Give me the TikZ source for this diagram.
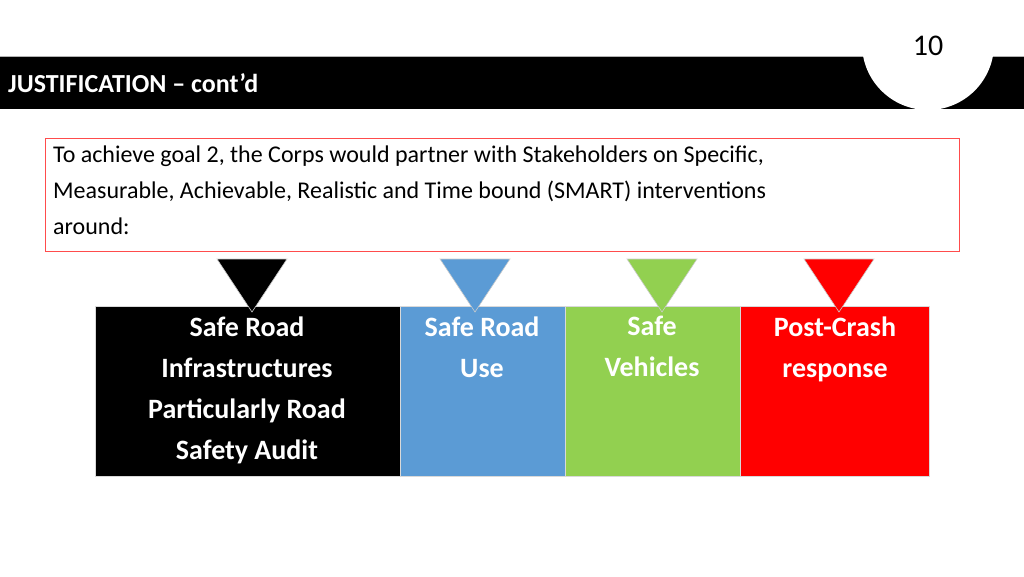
\documentclass[tikz,border=0pt]{standalone}
\usepackage{fontspec}
\setmainfont{Carlito}
\definecolor{cblue}{HTML}{5B9BD5}
\definecolor{cgreen}{HTML}{92D050}
\definecolor{cred}{HTML}{FF0000}
\tikzset{
  pillar/.style={draw=white!85!black, line width=0.6pt, minimum height=170pt, anchor=north west, inner sep=0pt},
  ptext/.style={text=white, font=\fontsize{28}{41}\selectfont\bfseries, align=center, anchor=north},
  tri/.style={draw=white!80!black, line width=0.6pt}
}
\begin{document}
\begin{tikzpicture}[x=1pt,y=-1pt]
\useasboundingbox (0,0) rectangle (1024,576);
\fill[black] (0,56) rectangle (1024,109);
\draw[gray!60, line width=0.6pt] (0,56) -- (1024,56);
\node[anchor=west, text=white, font=\fontsize{26}{30}\selectfont\bfseries, inner sep=0pt] (title) at (8,83) {JUSTIFICATION -- cont'd};
\fill[white] (928,44) circle (66);
\node[font=\fontsize{30}{34}\selectfont] (num) at (928,46) {10};
\node[draw=cred!70, line width=0.6pt, anchor=north west, minimum width=914pt, minimum height=113pt, inner sep=0pt] (box) at (45,138) {};
\node[anchor=north west, align=left, inner sep=0pt, font=\fontsize{24}{36}\selectfont] (intro) at (53,146) {To achieve goal 2, the Corps would partner with Stakeholders on Specific,\\Measurable, Achievable, Realistic and Time bound (SMART) interventions\\around:};
\node[pillar, fill=black, minimum width=305pt] (p1) at (95,306) {};
\node[pillar, fill=cblue, minimum width=165pt] (p2) at (400,306) {};
\node[pillar, fill=cgreen, minimum width=175pt] (p3) at (565,306) {};
\node[pillar, fill=cred, minimum width=189pt] (p4) at (740,306) {};
\node[ptext] (t1) at (247,313) {Safe Road\\Infrastructures\\Particularly Road\\Safety Audit};
\node[ptext] (t2) at (482,313) {Safe Road\\Use};
\node[ptext] (t3) at (652,313) {Safe\\Vehicles};
\node[ptext] (t4) at (835,313) {Post-Crash\\response};
\filldraw[tri, fill=black] (217,259) -- (287,259) -- (252,312) -- cycle;
\filldraw[tri, fill=cblue] (440,259) -- (510,259) -- (475,312) -- cycle;
\filldraw[tri, fill=cgreen] (627,259) -- (697,259) -- (662,312) -- cycle;
\filldraw[tri, fill=cred] (804,259) -- (874,259) -- (839,312) -- cycle;
\end{tikzpicture}
\end{document}
